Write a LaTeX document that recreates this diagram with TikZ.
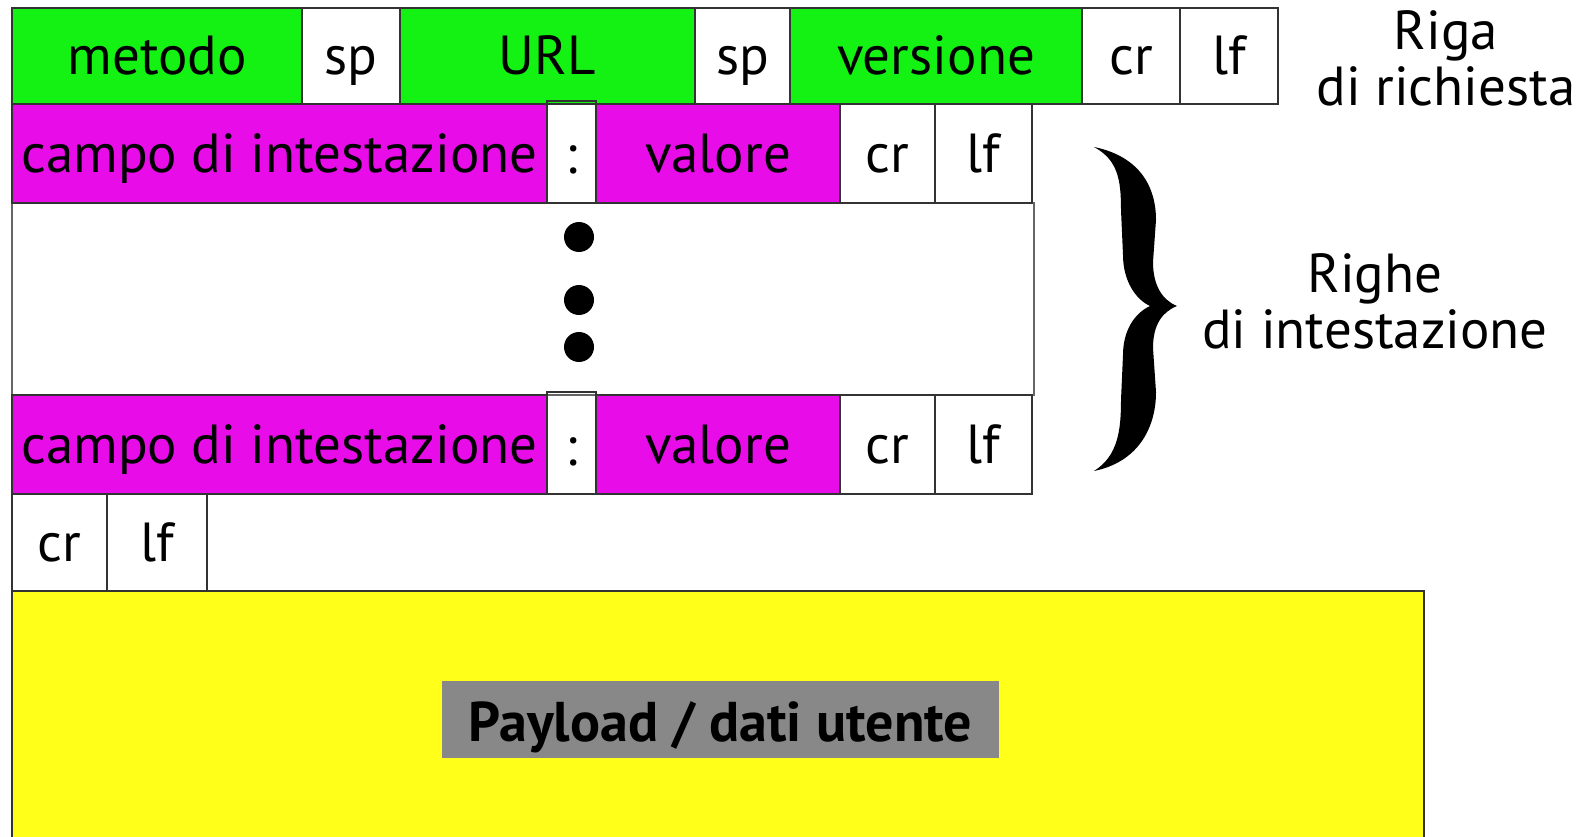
\documentclass[tikz,border=0pt]{standalone}
\usepackage{fontspec}
\setmainfont{PT Sans}
\usetikzlibrary{positioning}
\definecolor{reqgreen}{RGB}{20,242,20}
\definecolor{hdrmagenta}{RGB}{232,12,232}
\definecolor{bodyyellow}{RGB}{255,255,26}
\definecolor{labelgray}{RGB}{136,136,136}
\newcommand{\boxtext}{\fontsize{55}{56}\selectfont}

\begin{document}
\begin{tikzpicture}[x=1pt, y=-1pt,
    field/.style={draw=black!80, line width=2pt, anchor=north west,
      inner sep=0pt, outer sep=0pt, font=\boxtext, text height=38pt, text depth=0pt},
    reqfield/.style={field, fill=reqgreen},
    hdrfield/.style={field, fill=hdrmagenta}]
        \useasboundingbox (0,0) rectangle (1588,837);
        %%%REQUEST LINE%%%
        \begin{scope}[every node/.append style={text height=31pt}]
        \node[reqfield, minimum width=290pt, minimum height=96pt] (metodo) at (12,8) {metodo};
        \node[field, minimum width=98pt, minimum height=96pt] (spA) at (metodo.north east) {sp};
        \node[reqfield, minimum width=295pt, minimum height=96pt] (url) at (spA.north east) {URL};
        \node[field, minimum width=95pt, minimum height=96pt] (spB) at (url.north east) {sp};
        \node[reqfield, minimum width=292pt, minimum height=96pt] (versione) at (spB.north east) {versione};
        \node[field, minimum width=98pt, minimum height=96pt] (crR) at (versione.north east) {cr};
        \node[field, minimum width=98pt, minimum height=96pt] (lfR) at (crR.north east) {lf};
        \end{scope}
        %gap between the header lines
        \node[field, draw=black!60, minimum width=1022pt, minimum height=192pt] (gap) at (12,203) {};
        %%%HEADER LINES%%%
        \foreach \row/\top in {A/104, B/395} {
          \node[hdrfield, minimum width=535pt, minimum height=99pt] (campo\row) at (12,\top) {campo di intestazione};
          \node[field, anchor=south west, minimum width=49pt, minimum height=102pt, text height=44pt] (colon\row) at (campo\row.south east) {:};
          \node[hdrfield, anchor=south west, minimum width=244pt, minimum height=99pt] (valore\row) at (colon\row.south east) {valore};
          \node[field, minimum width=95pt, minimum height=99pt] (cr\row) at (valore\row.north east) {cr};
          \node[field, minimum width=97pt, minimum height=99pt] (lf\row) at (cr\row.north east) {lf};
        }
        %dots
        \fill (579,237) circle[radius=15pt];
        \fill (579,300) circle[radius=15pt];
        \fill (579,347) circle[radius=15pt];
        %empty line
        \node[field, minimum width=95pt, minimum height=97pt] (crE) at (campoB.south west) {cr};
        \node[field, minimum width=100pt, minimum height=97pt] (lfE) at (crE.north east) {lf};
        %%%BODY%%%
        \node[field, fill=bodyyellow, minimum width=1412pt, minimum height=260pt] (payload) at (crE.south west) {};
        \node[fill=labelgray, inner sep=0pt, minimum width=557pt, minimum height=77pt,
          text height=44pt, text depth=0pt,
          font=\bfseries\fontsize{56}{60}\selectfont] (payloadLabel) at (720.5,719.5) {Payload / dati utente};
        %brace
        \fill (1094,147) .. controls (1138,156) and (1156,185) .. (1156,220)
          -- (1153,262) .. controls (1153,285) and (1162,300) .. (1177,306)
          .. controls (1162,312) and (1153,325) .. (1153,348)
          -- (1156,392) .. controls (1156,428) and (1138,462) .. (1094,471)
          .. controls (1118,456) and (1121,430) .. (1121,400)
          -- (1123,355) .. controls (1123,330) and (1135,313) .. (1150,306)
          .. controls (1135,299) and (1123,280) .. (1123,255)
          -- (1121,210) .. controls (1121,180) and (1118,160) .. (1094,147) -- cycle;
        %labels
        \node[font=\boxtext, align=center] (rigaLabel) at (1446,58) {Riga\\di richiesta};
        \node[font=\boxtext, align=center] (righeLabel) at (1375,301) {Righe\\di intestazione};
    \end{tikzpicture}
\end{document}
